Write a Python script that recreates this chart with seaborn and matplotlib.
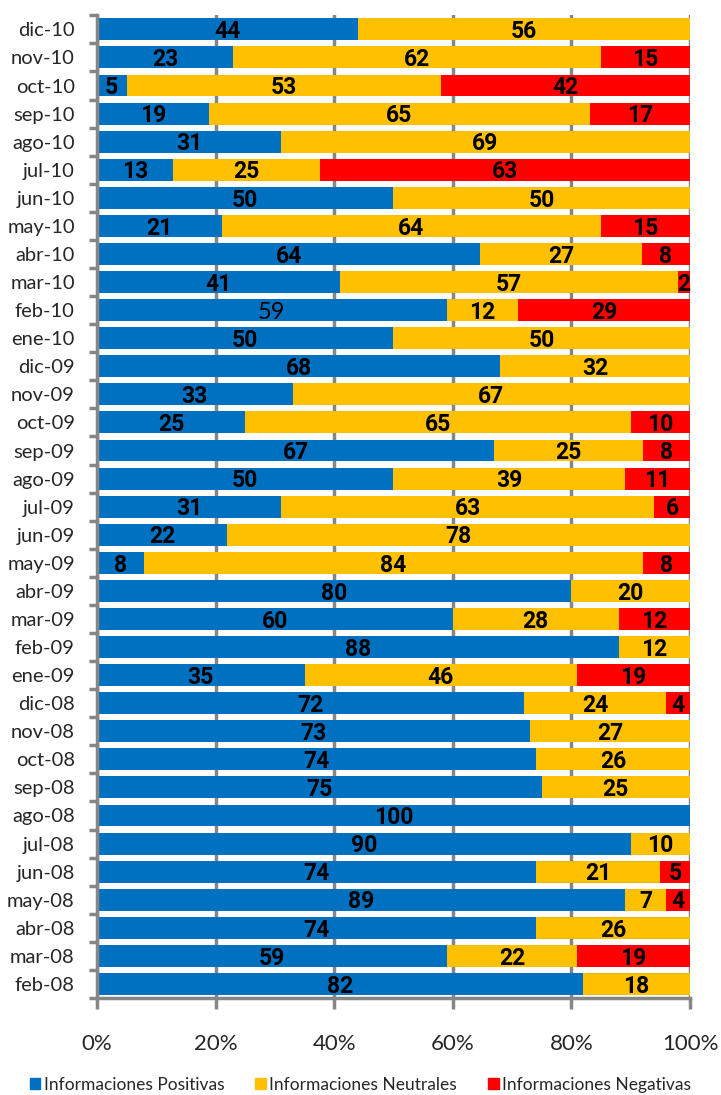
import pandas as pd
import matplotlib.pyplot as plt
import seaborn as sns
import numpy as np
from matplotlib.ticker import FixedLocator, PercentFormatter
from matplotlib.patches import Patch

# meses de arriba hacia abajo
meses = ["dic-10", "nov-10", "oct-10", "sep-10", "ago-10", "jul-10", "jun-10", "may-10",
         "abr-10", "mar-10", "feb-10", "ene-10", "dic-09", "nov-09", "oct-09", "sep-09",
         "ago-09", "jul-09", "jun-09", "may-09", "abr-09", "mar-09", "feb-09", "ene-09",
         "dic-08", "nov-08", "oct-08", "sep-08", "ago-08", "jul-08", "jun-08", "may-08",
         "abr-08", "mar-08", "feb-08"]
positivas = [44, 23, 5, 19, 31, 13, 50, 21, 64, 41, 59, 50, 68, 33, 25, 67, 50, 31, 22, 8,
             80, 60, 88, 35, 72, 73, 74, 75, 100, 90, 74, 89, 74, 59, 82]
neutrales = [56, 62, 53, 65, 69, 25, 50, 64, 27, 57, 12, 50, 32, 67, 65, 25, 39, 63, 78, 84,
             20, 28, 12, 46, 24, 27, 26, 25, 0, 10, 21, 7, 26, 22, 18]
negativas = [0, 15, 42, 17, 0, 63, 0, 15, 8, 2, 29, 0, 0, 0, 10, 8, 11, 6, 0, 8,
             0, 12, 0, 19, 4, 0, 0, 0, 0, 0, 5, 4, 0, 19, 0]

azul = "#0070C0"
amarillo = "#FFC000"
rojo = "#FF0000"
gris = "#868686"

df = pd.DataFrame({"Mes": meses, "Positivas": positivas,
                   "Neutrales": neutrales, "Negativas": negativas})
total = df[["Positivas", "Neutrales", "Negativas"]].sum(axis=1)
df["p"] = df["Positivas"] / total
df["pn"] = (df["Positivas"] + df["Neutrales"]) / total
df["t"] = (df["Positivas"] + df["Neutrales"] + df["Negativas"]) / total

sns.set_style("white")
plt.rcParams['font.family'] = ['Lato', 'DejaVu Sans']

fig, ax = plt.subplots(figsize=(7.21, 10.95), dpi=100)
fig.subplots_adjust(left=0.1345, right=0.957, top=0.986, bottom=0.0886)

sns.barplot(ax=ax, data=df, y="Mes", x="t", color=rojo, saturation=1, width=0.78, linewidth=0)
sns.barplot(ax=ax, data=df, y="Mes", x="pn", color=amarillo, saturation=1, width=0.78, linewidth=0)
sns.barplot(ax=ax, data=df, y="Mes", x="p", color=azul, saturation=1, width=0.78, linewidth=0)

# etiquetas
for i, row in df.iterrows():
    t = row["Positivas"] + row["Neutrales"] + row["Negativas"]
    izq = 0
    for col in ["Positivas", "Neutrales", "Negativas"]:
        v = row[col]
        if v > 0:
            w = v / t
            if row["Mes"] == "feb-10" and col == "Positivas":
                ax.text(izq + w / 2, i + 0.08, str(v), ha="center", va="center",
                        fontsize=17, color="black")
            else:
                ax.text(izq + w / 2, i + 0.08, str(v), ha="center", va="center",
                        fontsize=16.5, fontweight="bold", family=["Roboto", "DejaVu Sans"],
                        color="black")
            izq += w

ax.set_xlim(0, 1)
ax.set_ylim(34.5, -0.5)
ax.xaxis.set_major_locator(FixedLocator([0, 0.2, 0.4, 0.6, 0.8, 1.0]))
ax.xaxis.set_major_formatter(PercentFormatter(1.0, decimals=0))
ax.set_axisbelow(True)
ax.grid(axis="x", color=gris, lw=2.5)
ax.grid(axis="y", visible=False)
ax.set_xlabel("")
ax.set_ylabel("")

for s in ["top", "right"]:
    ax.spines[s].set_visible(False)
for s in ["left", "bottom"]:
    ax.spines[s].set_color(gris)
    ax.spines[s].set_linewidth(2.5)

ax.yaxis.set_minor_locator(FixedLocator(np.arange(-0.5, 35, 1)))
ax.tick_params(axis="y", which="major", length=0, pad=16, labelsize=14.5)
ax.tick_params(axis="y", which="minor", left=True, length=6, width=2.5, color=gris)
ax.tick_params(axis="x", which="major", bottom=True, length=8, width=2.5, color=gris,
               pad=18, labelsize=16)

handles = [Patch(color=azul, label="Informaciones Positivas"),
           Patch(color=amarillo, label="Informaciones Neutrales"),
           Patch(color=rojo, label="Informaciones Negativas")]
fig.legend(handles=handles, loc="lower center", bbox_to_anchor=(0.5, -0.012), ncol=3,
           frameon=False, fontsize=12.5, handlelength=0.6, handleheight=0.6,
           handletextpad=0.2, columnspacing=1.8)

plt.savefig("out.png", dpi=100)
